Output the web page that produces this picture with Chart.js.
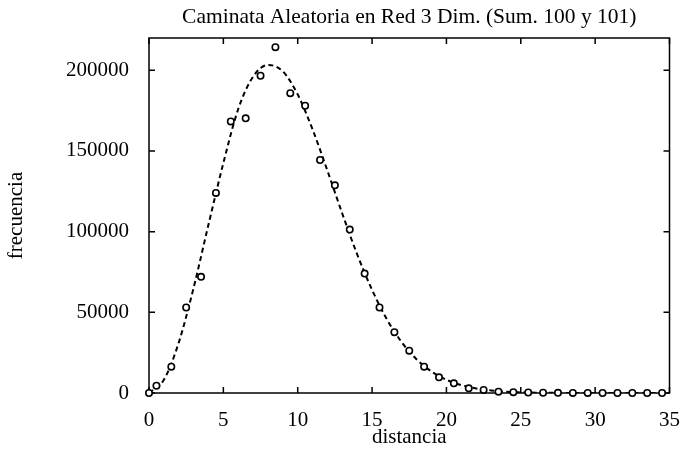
<!DOCTYPE html>
<html>
<head>
<meta charset="utf-8">
<script src="https://cdn.jsdelivr.net/npm/chart.js@4.4.1/dist/chart.umd.min.js"></script>
<style>
  html, body { margin: 0; padding: 0; background: #fff; }
  canvas { display: block; }
</style>
</head>
<body>
<canvas id="chart" width="687" height="450"></canvas>
<script>
// measured points (diamonds)
const distancia = [0, 0.5, 1.5, 2.5, 3.5, 4.5, 5.5, 6.5, 7.5, 8.5, 9.5, 10.5, 11.5, 12.5, 13.5, 14.5, 15.5, 16.5,
  17.5, 18.5, 19.5, 20.5, 21.5, 22.5, 23.5, 24.5, 25.5, 26.5, 27.5, 28.5, 29.5, 30.5, 31.5, 32.5, 33.5, 34.5]
const frecuencia = [0, 4500, 16300, 53000, 72000, 124000, 168300, 170200, 196600, 214300, 185800, 178000, 144400,
  128700, 101300, 74000, 53000, 37700, 26200, 16300, 9700, 6000, 2900, 1900, 800, 500, 300, 150, 80, 40, 20, 10, 5, 0, 0, 0]

const curvaX = [0, 1, 2, 3, 4, 5, 6, 7, 8, 9, 10, 11, 12, 13, 14, 15, 16, 17, 18, 19, 20, 21, 22, 23, 24, 25,
  26, 27, 28, 29, 30, 31, 32, 33, 34, 35]
const curvaY = [0, 8200, 31200, 65200, 104400, 142500, 176000, 196000, 203300, 199300, 185000, 163300, 137700,
  111100, 85900, 63900, 45600, 31400, 20800, 13300, 8200, 4900, 2800, 1600, 800, 400, 200, 100, 50, 20, 10, 0, 0, 0, 0, 0]

const yTicks = [0, 50000, 100000, 150000, 200000]
const xTicks = [0, 5, 10, 15, 20, 25, 30, 35]

const serif = "'Liberation Serif', 'DejaVu Serif', serif"
const ink = '#000'

const frame = {
  id: 'frame',
  beforeDatasetsDraw(chart) {
    const { ctx, chartArea: a, scales: { x, y } } = chart
    ctx.save()
    ctx.strokeStyle = ink
    ctx.lineWidth = 1.5
    ctx.strokeRect(a.left, a.top, a.width, a.height)
    ctx.beginPath()
    xTicks.forEach(v => {
      const px = x.getPixelForValue(v)
      ctx.moveTo(px, a.bottom); ctx.lineTo(px, a.bottom - 6)
      ctx.moveTo(px, a.top); ctx.lineTo(px, a.top + 6)
    })
    yTicks.forEach(v => {
      const py = y.getPixelForValue(v)
      ctx.moveTo(a.left, py); ctx.lineTo(a.left + 6, py)
      ctx.moveTo(a.right, py); ctx.lineTo(a.right - 6, py)
    })
    ctx.stroke()
    ctx.restore()
  }
}

new Chart(document.getElementById('chart'), {
  type: 'scatter',
  data: {
    datasets: [{
      label: 'datos',
      data: distancia.map((d, i) => ({ x: d, y: frecuencia[i] })),
      pointStyle: 'circle',
      pointRadius: 3.2,
      pointBorderWidth: 1.6,
      pointBorderColor: ink,
      pointBackgroundColor: '#fff',
      showLine: false,
      clip: false,
    }, {
      label: 'ajuste',
      data: curvaX.map((d, i) => ({ x: d, y: curvaY[i] })),
      showLine: true,
      pointRadius: 0,
      borderColor: ink,
      borderWidth: 2,
      borderDash: [5, 3.5],
      cubicInterpolationMode: 'monotone',
    }]
  },
  options: {
    responsive: false,
    animation: false,
    layout: { padding: { left: 0, right: 15, top: 0, bottom: 0 } },
    plugins: {
      legend: { display: false },
      tooltip: { enabled: false },
      title: {
        display: true,
        fullSize: false,
        text: 'Caminata Aleatoria en Red 3 Dim. (Sum. 100 y 101)',
        color: ink,
        font: { family: serif, size: 21.5, weight: 'normal' },
        padding: { top: 4.5, bottom: 7.7 },
      },
    },
    scales: {
      x: {
        type: 'linear',
        min: 0,
        max: 35,
        ticks: { stepSize: 5, color: ink, padding: 7, font: { family: serif, size: 21 } },
        grid: { display: false },
        border: { display: false },
        title: {
          display: true,
          text: 'distancia',
          color: ink,
          font: { family: serif, size: 21 },
          padding: { top: 0, bottom: 0 },
        },
        afterFit: s => { s.height = 57 },
      },
      y: {
        min: 0,
        max: 220000,
        afterBuildTicks: s => { s.ticks = yTicks.map(v => ({ value: v })) },
        ticks: { color: ink, padding: 12, font: { family: serif, size: 21 }, callback: v => String(v) },
        grid: { display: false },
        border: { display: false },
        title: {
          display: true,
          text: 'frecuencia',
          color: ink,
          font: { family: serif, size: 21 },
          padding: { top: 4, bottom: 0 },
        },
        afterFit: s => { s.width = 149 },
      }
    }
  },
  plugins: [frame]
})
</script>
</body>
</html>
